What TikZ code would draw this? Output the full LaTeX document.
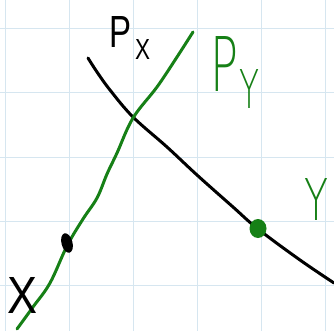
\documentclass[tikz,border=0pt]{standalone}
\usepackage{fontspec}
\setmainfont{Liberation Sans}
\newfontfamily\thinfont{DejaVu Sans ExtraLight}
\usepackage{graphicx}
\definecolor{gridc}{RGB}{214,230,240}
\definecolor{pen}{RGB}{22,128,22}
\tikzset{
  gridline/.style={draw=gridc, line width=1pt},
  curve/.style={line width=3pt, line cap=round, line join=round},
  lbl/.style={inner sep=0pt, outer sep=0pt}
}
\begin{document}
\begin{tikzpicture}[x=1pt, y=-1pt]
\useasboundingbox (0,0) rectangle (334,331);
\fill[white] (0,0) rectangle (334,331);
% grid
\foreach \gx in {5,69,133,197,261,325} \draw[gridline] (\gx,0) -- (\gx,331);
\foreach \gy in {29,93,157,221,285} \draw[gridline] (0,\gy) -- (334,\gy);
% black curve
\draw[curve, black] plot[smooth, tension=0.6] coordinates {(88,58) (97,72) (110,90) (133,117) (167,147) (197,175) (233,207) (258,229) (300,260) (334,283)};
% green line
\draw[curve, pen] plot[smooth, tension=0.6] coordinates {(17,329) (33,307) (50,283) (67,246) (83,219) (97,198) (107,174) (117,153) (133,118) (157,87) (177,57) (193,32)};
% dots
\fill[black, rotate around={15:(67,243)}] (67,243) ellipse (5.5pt and 10pt);
\fill[pen] (258,228.5) ellipse (8.5pt and 9.5pt);
% labels
\node[lbl] (px) at (120,32) {\resizebox{22pt}{31pt}{P}};
\node[lbl] (pxs) at (142.5,50) {\resizebox{15pt}{20pt}{X}};
\node[lbl, text=pen] (py) at (224,64) {\thinfont\resizebox{28pt}{55pt}{P}};
\node[lbl, text=pen] (pys) at (249.5,89) {\thinfont\resizebox{20pt}{39pt}{Y}};
\node[lbl, text=pen] (y) at (316,199) {\thinfont\resizebox{24pt}{42pt}{Y}};
\node[lbl] (x) at (22,295) {\resizebox{30pt}{36pt}{X}};
\end{tikzpicture}
\end{document}
